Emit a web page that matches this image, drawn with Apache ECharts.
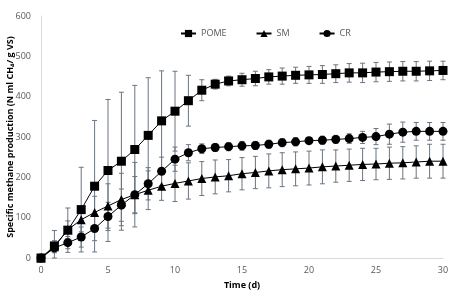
<!DOCTYPE html>
<html>
<head>
<meta charset="utf-8">
<script src="https://cdn.jsdelivr.net/npm/echarts@6/dist/echarts.min.js"></script>
<style>
  html, body { margin: 0; padding: 0; background: #fff; }
  #chart { width: 460px; height: 304px; }
</style>
</head>
<body>
<div id="chart"></div>
<script>
// days 0..30
const days = Array.from({ length: 31 }, (_, i) => i);

const pome = [0, 30, 69, 120, 178, 217, 240, 269, 304, 340, 364, 390, 416, 431, 439, 442,
  445, 449, 451, 453, 454, 455, 457, 459, 459, 461, 462, 463, 463, 464, 465];
const pomeErr = [0, 38, 55, 105, 163, 176, 171, 159, 143, 124, 99, 63, 26, 12, 12, 16,
  18, 18, 20, 20, 21, 22, 22, 23, 24, 24, 24, 24, 24, 24, 23];

const sm = [0, 28, 70, 95, 113, 129, 145, 157, 168, 178, 185, 191, 197, 201, 204, 209,
  212, 216, 219, 221, 223, 226, 228, 230, 232, 233, 235, 236, 238, 240, 240];
const smErr = [0, 15, 22, 30, 40, 55, 65, 80, 48, 35, 45, 45, 42, 42, 40, 40,
  40, 42, 42, 42, 42, 42, 40, 40, 40, 39, 40, 40, 40, 42, 42];

const cr = [0, 25, 38, 52, 73, 103, 131, 157, 184, 215, 245, 261, 271, 274, 276, 278,
  279, 282, 286, 288, 291, 292, 294, 296, 299, 301, 307, 312, 314, 314, 314];
const crErr = [0, 10, 15, 25, 30, 35, 40, 45, 40, 35, 30, 20, 12, 10, 10, 11,
  10, 10, 10, 10, 8, 10, 10, 12, 15, 20, 25, 25, 22, 22, 22];

const yTicks = [0, 100, 200, 300, 400, 500, 600];
const xTicks = [0, 5, 10, 15, 20, 25, 30];

function errData(vals, errs) {
  return days.map((d, i) => [d, Math.max(0, vals[i] - errs[i]), vals[i] + errs[i]]);
}

function errSeries(vals, errs) {
  return {
    type: 'custom',
    silent: true,
    z: 1,
    renderItem: function (params, api) {
      const x = api.value(0);
      const top = api.coord([x, api.value(2)]);
      const bot = api.coord([x, api.value(1)]);
      const cap = 2.5;
      const style = { stroke: '#6b7480', lineWidth: 1 };
      return {
        type: 'group',
        children: [
          { type: 'line', shape: { x1: top[0], y1: top[1], x2: bot[0], y2: bot[1] }, style },
          { type: 'line', shape: { x1: top[0] - cap, y1: top[1], x2: top[0] + cap, y2: top[1] }, style },
          { type: 'line', shape: { x1: bot[0] - cap, y1: bot[1], x2: bot[0] + cap, y2: bot[1] }, style }
        ]
      };
    },
    data: errData(vals, errs)
  };
}

function lineSeries(name, vals, symbol, size) {
  return {
    name: name,
    type: 'line',
    z: 3,
    data: days.map((d, i) => [d, vals[i]]),
    symbol: symbol,
    symbolSize: size,
    showSymbol: true,
    lineStyle: { color: '#000', width: 1 },
    itemStyle: { color: '#000' },
    animation: false
  };
}

const chart = echarts.init(document.getElementById('chart'));
chart.setOption({
  animation: false,
  textStyle: { fontFamily: 'Open Sans, Roboto, sans-serif' },
  grid: { left: 41, right: 17, top: 16, bottom: 46, containLabel: false, outerBoundsMode: 'none' },
  legend: {
    top: 24,
    left: 175,
    itemGap: 29,
    itemWidth: 15,
    itemHeight: 9,
    textStyle: { color: '#595959', fontSize: 9 },
    data: ['POME', 'SM', 'CR']
  },
  xAxis: {
    type: 'value',
    min: 0,
    max: 30,
    interval: 5,
    name: 'Time (d)',
    nameLocation: 'middle',
    nameGap: 23,
    nameMoveOverlap: false,
    nameTextStyle: { color: '#000', fontSize: 9, fontWeight: 'bold' },
    axisLine: { lineStyle: { color: '#d9d9d9' } },
    axisTick: { show: false },
    splitLine: { show: false },
    axisLabel: {
      color: '#595959', fontSize: 9, margin: 8,
      formatter: v => xTicks.includes(v) ? String(v) : ''
    }
  },
  yAxis: {
    type: 'value',
    min: 0,
    max: 600,
    interval: 100,
    name: 'Specific methane production (N ml CH\u2084/ g VS)',
    nameLocation: 'middle',
    nameGap: 26,
    nameMoveOverlap: false,
    nameTextStyle: { color: '#000', fontSize: 9, fontWeight: 'bold' },
    axisLine: { show: true, lineStyle: { color: '#d9d9d9' } },
    axisTick: { show: false },
    splitLine: { show: false },
    axisLabel: {
      color: '#595959', fontSize: 9, margin: 10,
      formatter: v => yTicks.includes(v) ? String(v) : ''
    }
  },
  series: [
    errSeries(pome, pomeErr),
    errSeries(sm, smErr),
    errSeries(cr, crErr),
    lineSeries('POME', pome, 'rect', 9),
    lineSeries('SM', sm, 'triangle', 9),
    lineSeries('CR', cr, 'circle', 9)
  ]
});
</script>
</body>
</html>
